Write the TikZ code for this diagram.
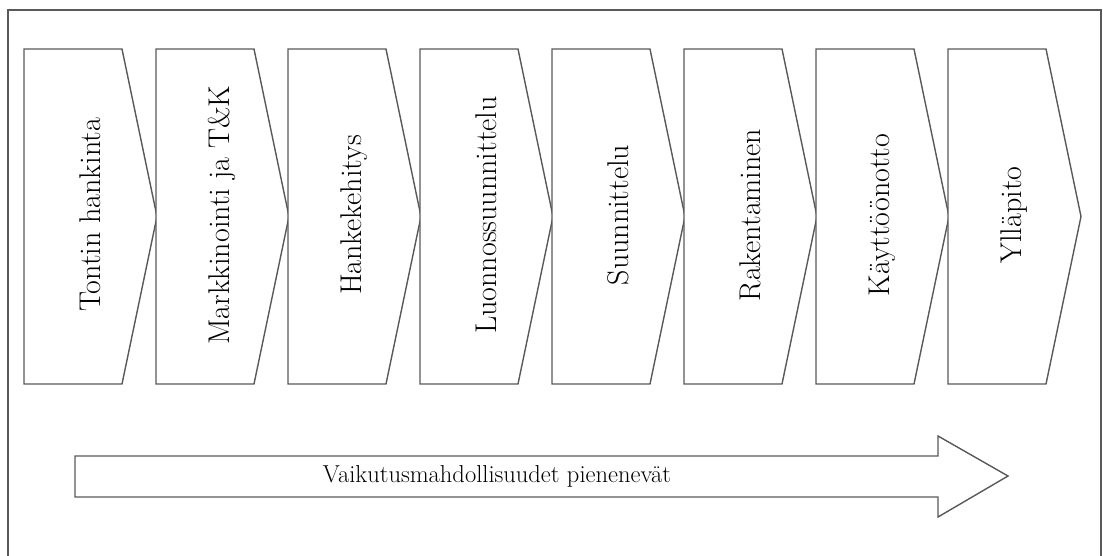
\documentclass[tikz,border=0pt]{standalone}
\usepackage{tikz}
\tikzset{
  >= latex,
  ln/.style={draw=black!65, line width=1.4pt, line join=miter},
  ph/.style={rotate=90, font=\fontsize{30pt}{30pt}\selectfont, inner sep=0pt},
  lb/.style={font=\fontsize{24.5pt}{24.5pt}\selectfont, inner sep=0pt}
}
\begin{document}
\begin{tikzpicture}[x=1pt, y=-1pt]
  \useasboundingbox (0,0) rectangle (1103,556);
  \draw[ln] (8,570) -- (8,10) -- (1101,10) -- (1101,570);
  \foreach \lbl [count=\i from 0] in {Tontin hankinta, Markkinointi ja T\&K, Hankekehitys, Luonnossuunnittelu, Suunnittelu, Rakentaminen, Käyttöönotto, Ylläpito} {
    \pgfmathsetmacro\xl{24+132*\i}
    \draw[ln, fill=white] (\xl,49) -- ++(98,0) -- ++(35,167.5) -- ++(-35,167.5) -- ++(-98,0) -- cycle;
    \node[ph] (p\i) at (\xl+66,215) {\lbl};
  }
  \draw[ln] (75,456) -- (938,456) -- (938,436) -- (1008,476) -- (938,517) -- (938,497) -- (75,497) -- cycle;
  \node[lb] (vm) at (497,476) {Vaikutusmahdollisuudet pienenevät};
\end{tikzpicture}
\end{document}
